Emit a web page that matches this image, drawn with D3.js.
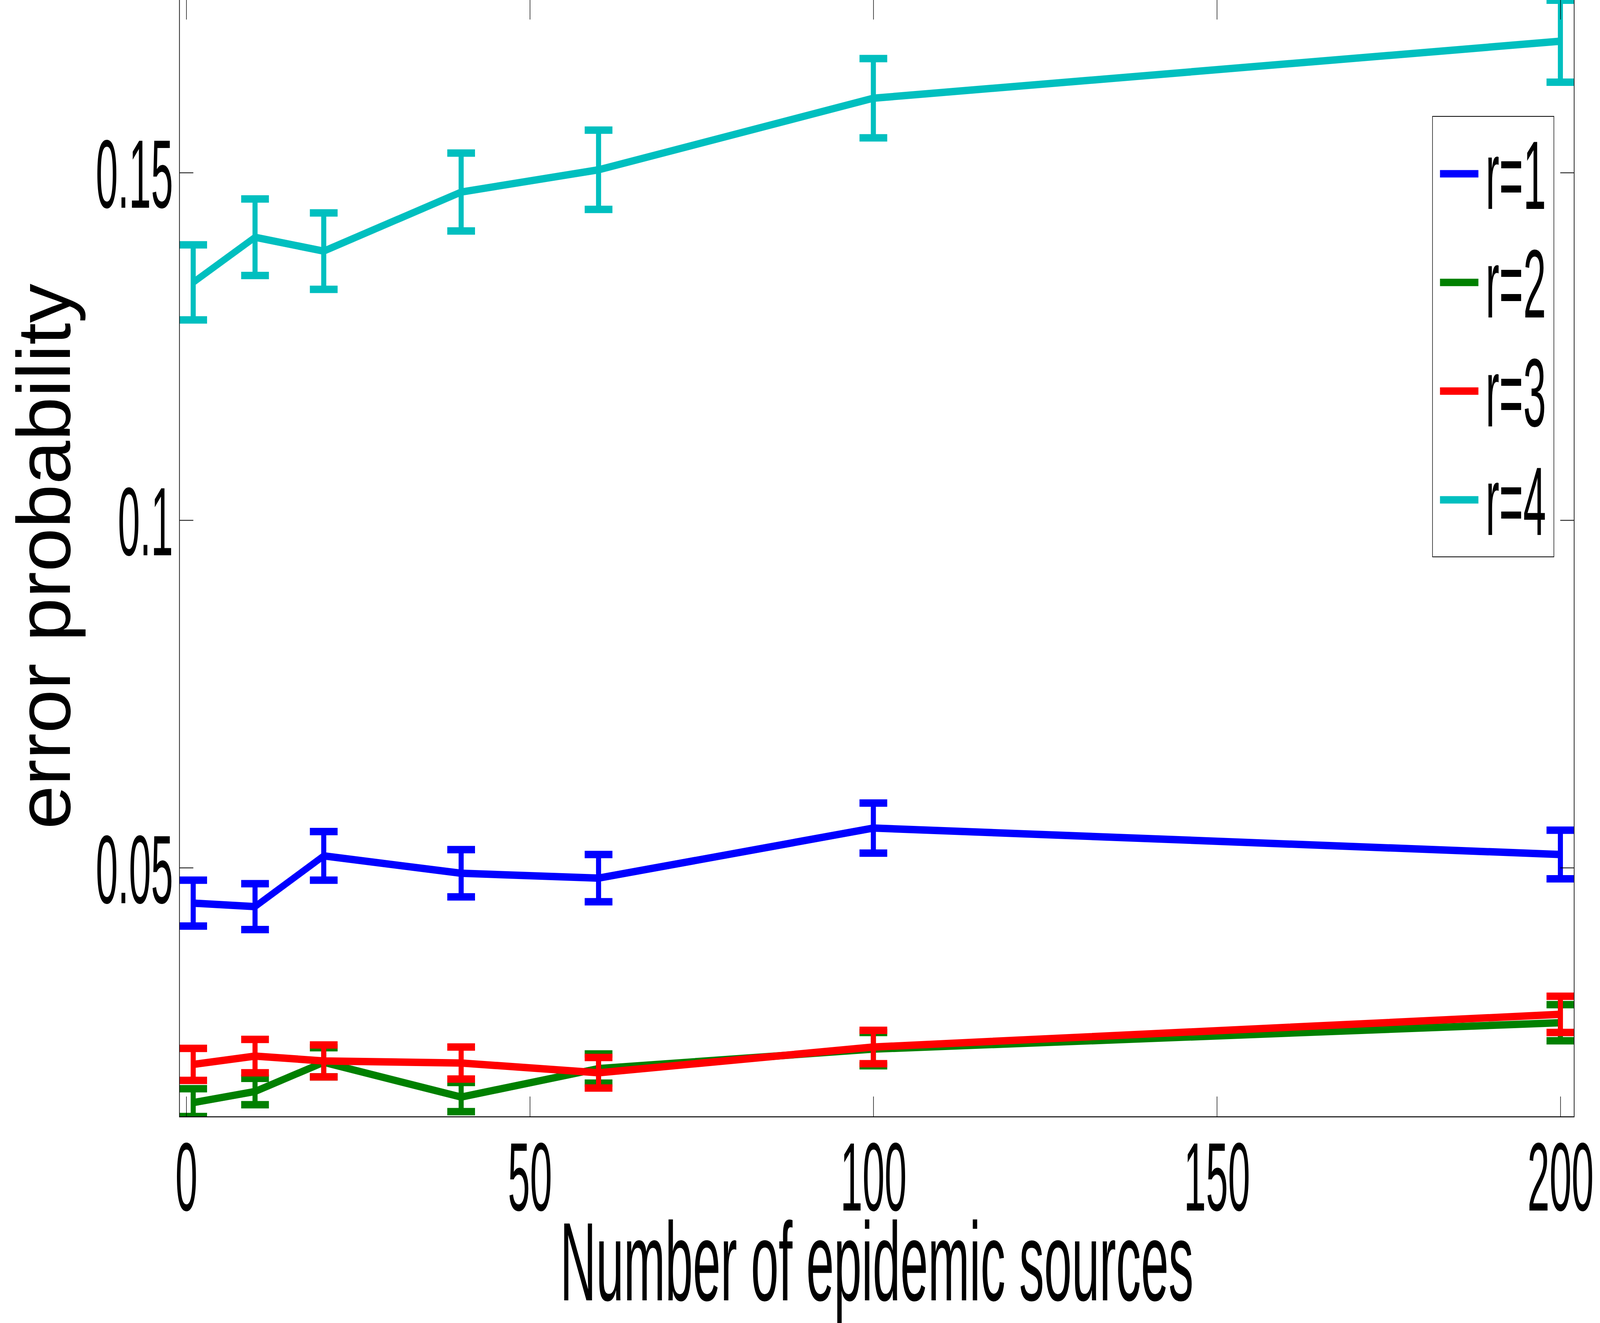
<!DOCTYPE html>
<html>
<head>
<meta charset="utf-8">
<script src="https://cdn.jsdelivr.net/npm/d3@7"></script>
<style>
  html, body { margin: 0; padding: 0; background: #fff; overflow: hidden; }
  svg { display: block; }
</style>
</head>
<body>
<svg id="chart"></svg>
<script>
// number of sources on the x axis
var sources = [1, 10, 20, 40, 60, 100, 200];

// mean error probability per series, and half-width of the error bar
var r1 = [0.0449, 0.0444, 0.0517, 0.0492, 0.0485, 0.0557, 0.0519],
    r1Err = [0.0033, 0.0033, 0.0035, 0.0034, 0.0034, 0.0036, 0.0035];
var r2 = [0.0162, 0.0178, 0.0220, 0.0170, 0.0211, 0.0239, 0.0277],
    r2Err = [0.0020, 0.0019, 0.0021, 0.0021, 0.0021, 0.0024, 0.0026];
var r3 = [0.0217, 0.0229, 0.0222, 0.0219, 0.0205, 0.0242, 0.0289],
    r3Err = [0.0023, 0.0024, 0.0023, 0.0023, 0.0022, 0.0024, 0.0026];
var r4 = [0.1342, 0.1407, 0.1387, 0.1472, 0.1504, 0.1607, 0.1689],
    r4Err = [0.0054, 0.0055, 0.0055, 0.0056, 0.0057, 0.0057, 0.0059];

var names = ["r=1", "r=2", "r=3", "r=4"];
var colors = ["#0000ff", "#008000", "#ff0000", "#00bfbf"];

var xTicks = [0, 50, 100, 150, 200],
    yTicks = [0.05, 0.1, 0.15];

var W = 6000, H = 3388;

// the window can come out narrower than asked, so draw in a fixed
// 6000x3388 frame and let the viewBox stretch it over the whole window
var svg = d3.select("#chart")
    .attr("width", window.innerWidth || W)
    .attr("height", window.innerHeight || H)
    .attr("viewBox", "0 0 " + W + " " + H)
    .attr("preserveAspectRatio", "none");

var font = "'Liberation Sans', Arial, sans-serif";

// note: "top" is taken by window.top, so plot edges get their own names
var plotLeft = 673, plotRight = 5903, plotTop = -2, plotBottom = 2860;

var x = d3.scaleLinear().domain([-1, 202]).range([plotLeft, plotRight]),
    y = d3.scaleLinear().domain([0.01416, 0.17494]).range([plotBottom, plotTop]);

var series = [[r1, r1Err], [r2, r2Err], [r3, r3Err], [r4, r4Err]].map(function(s, i) {
  return {
    name: names[i],
    color: colors[i],
    points: sources.map(function(n, j) { return {x: n, y: s[0][j], e: s[1][j]}; })
  };
});

// squeeze text horizontally, the reference font is very narrow
function squeeze(sel, k) {
  sel.each(function() {
    var w = this.getComputedTextLength();
    d3.select(this).attr("textLength", w * k).attr("lengthAdjust", "spacingAndGlyphs");
  });
}

svg.append("rect").attr("width", W).attr("height", H).attr("fill", "#fff");

svg.append("defs").append("clipPath").attr("id", "plot-clip")
  .append("rect")
    .attr("x", plotLeft).attr("y", plotTop)
    .attr("width", plotRight - plotLeft).attr("height", plotBottom - plotTop);

var plot = svg.append("g").attr("clip-path", "url(#plot-clip)");

var line = d3.line()
    .x(function(d) { return x(d.x); })
    .y(function(d) { return y(d.y); });

var capHalf = 52, lw = 19;

var sg = plot.selectAll(".series").data(series).enter().append("g")
    .attr("class", "series")
    .attr("stroke", function(d) { return d.color; })
    .attr("fill", "none")
    .attr("stroke-width", lw);

sg.selectAll(".err").data(function(d) { return d.points; }).enter().append("path")
    .attr("class", "err")
    .attr("d", function(d) {
      var cx = x(d.x), y0 = y(d.y + d.e), y1 = y(d.y - d.e);
      return "M" + (cx - capHalf) + "," + y0 + "H" + (cx + capHalf) +
             "M" + cx + "," + y0 + "V" + y1 +
             "M" + (cx - capHalf) + "," + y1 + "H" + (cx + capHalf);
    });

sg.append("path")
    .attr("class", "line")
    .attr("d", function(d) { return line(d.points); });

// axes with inward ticks on all four sides
var gx = svg.append("g")
    .attr("transform", "translate(0," + plotBottom + ")")
    .call(d3.axisBottom(x).tickValues(xTicks).tickSizeInner(-52).tickSizeOuter(0).tickFormat(d3.format("d")));
var gxt = svg.append("g")
    .attr("transform", "translate(0," + plotTop + ")")
    .call(d3.axisTop(x).tickValues(xTicks).tickSizeInner(-52).tickSizeOuter(0).tickFormat(""));
var gy = svg.append("g")
    .attr("transform", "translate(" + plotLeft + ",0)")
    .call(d3.axisLeft(y).tickValues(yTicks).tickSizeInner(-52).tickSizeOuter(0).tickFormat(function(d) { return String(d); }));
var gyr = svg.append("g")
    .attr("transform", "translate(" + plotRight + ",0)")
    .call(d3.axisRight(y).tickValues(yTicks).tickSizeInner(-52).tickSizeOuter(0).tickFormat(""));

[gx, gxt, gy, gyr].forEach(function(g) {
  g.select(".domain").remove();
  g.selectAll(".tick line").attr("stroke", "#000").attr("stroke-width", 2);
  g.attr("font-family", font).attr("font-size", 248);
});

gx.selectAll(".tick text").attr("y", 240).attr("dy", null).attr("fill", "#000");
gy.selectAll(".tick text").attr("x", -24).attr("y", 90).attr("dy", null).attr("fill", "#000");
squeeze(gx.selectAll(".tick text"), 0.6);
squeeze(gy.selectAll(".tick text"), 0.6);

svg.append("rect")
    .attr("x", plotLeft).attr("y", plotTop)
    .attr("width", plotRight - plotLeft).attr("height", plotBottom - plotTop)
    .attr("fill", "none").attr("stroke", "#000").attr("stroke-width", 2.5);

// axis titles
svg.append("text")
    .attr("x", (plotLeft + plotRight) / 2).attr("y", 3330)
    .attr("text-anchor", "middle")
    .attr("font-family", font).attr("font-size", 286)
    .attr("textLength", 2375).attr("lengthAdjust", "spacingAndGlyphs")
    .text("Number of epidemic sources");

svg.append("text")
    .attr("transform", "translate(262,1425) rotate(-90)")
    .attr("text-anchor", "middle")
    .attr("font-family", font).attr("font-size", 282)
    .attr("textLength", 1397).attr("lengthAdjust", "spacingAndGlyphs")
    .text("error probability");

// legend
var legend = svg.append("g");
legend.append("rect")
    .attr("x", 5372).attr("y", 298).attr("width", 455).attr("height", 1128)
    .attr("fill", "#fff").attr("stroke", "#000").attr("stroke-width", 2);

var item = legend.selectAll(".item").data(series).enter().append("g")
    .attr("class", "item")
    .attr("transform", function(d, i) { return "translate(0," + (445 + i * 278.3) + ")"; });

item.append("line")
    .attr("x1", 5400).attr("x2", 5544)
    .attr("stroke", function(d) { return d.color; })
    .attr("stroke-width", lw);

var lt = item.append("text")
    .attr("x", 5571).attr("y", 90)
    .attr("font-family", font).attr("font-size", 248)
    .text(function(d) { return d.name; });
squeeze(lt, 0.62);
</script>
</body>
</html>
